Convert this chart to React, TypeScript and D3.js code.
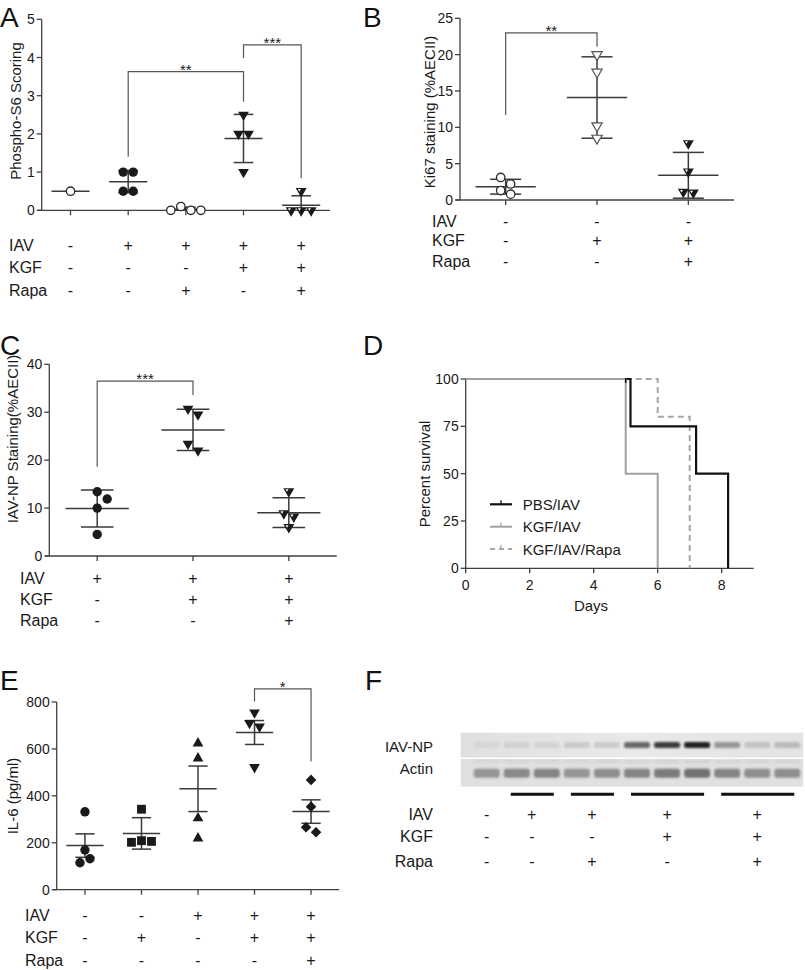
import React from "react";
import * as d3 from "d3";

const FONT = "'Liberation Sans', Arial, Helvetica, sans-serif";
const INK = "#1a1a1a";
const AXIS = "#404040";
const LINE = "#3a3a3a";

const ROW_LABELS = ["IAV", "KGF", "Rapa"];

// ---- Panel A ----
const A_VALUES = [[0.5], [1, 1, 0.5, 0.5], [0, 0, 0.1, 0], [2.5, 2, 2, 1], [0.5, 0, 0, 0]];
const A_MEAN = [0.5, 0.75, 0.03, 1.88, 0.13];
const A_ERR = [0, 0.29, 0.05, 0.63, 0.25];
const A_MARKERS = ["circleOpen", "circle", "circleOpen", "triDown", "triDownHalf"];
const A_TICKS = [0, 1, 2, 3, 4, 5];
const A_IAV = ["-", "+", "+", "+", "+"];
const A_KGF = ["-", "-", "-", "+", "+"];
const A_RAPA = ["-", "-", "+", "-", "+"];
const A_SIG = [
  { from: 1, to: 3, top: 3.63, left: 1.4, right: 2.84, label: "**" },
  { from: 3, to: 4, top: 4.33, left: 3.98, right: 0.84, label: "***" },
];

// ---- Panel B ----
const B_VALUES = [[3.1, 2.2, 0.8, 1.3], [20, 17.6, 10.2, 8.5], [7.8, 3.9, 1.1, 1.0]];
const B_MEAN = [1.83, 14.1, 3.4];
const B_ERR = [1.02, 5.6, 3.15];
const B_MARKERS = ["circleOpen", "triDownOpen", "triDownHalf"];
const B_TICKS = [0, 5, 10, 15, 20, 25];
const B_IAV = ["-", "-", "-"];
const B_KGF = ["-", "+", "+"];
const B_RAPA = ["-", "-", "+"];
const B_SIG = [{ from: 0, to: 1, top: 23, left: 11.7, right: 21.1, label: "**" }];

// ---- Panel C ----
const C_VALUES = [[13.4, 11.9, 10, 4.5], [30.7, 29.5, 23.4, 22.0], [13.5, 8.9, 8.2, 6.0]];
const C_MEAN = [9.9, 26.3, 9.05];
const C_ERR = [3.85, 4.3, 3.1];
const C_MARKERS = ["circle", "triDown", "triDownHalf"];
const C_TICKS = [0, 10, 20, 30, 40];
const C_IAV = ["+", "+", "+"];
const C_KGF = ["-", "+", "+"];
const C_RAPA = ["-", "-", "+"];
const C_SIG = [{ from: 0, to: 1, top: 36.5, left: 18.6, right: 33.6, label: "***" }];

// ---- Panel D ----
const D_DAY_TICKS = [0, 2, 4, 6, 8];
const D_PCT_TICKS = [0, 25, 50, 75, 100];
const D_PBS: [number, number][] = [[0, 100], [5.15, 75], [7.2, 50], [8.2, 0]];
const D_KGF: [number, number][] = [[0, 100], [5, 50], [6, 0]];
const D_RAPA: [number, number][] = [[0, 100], [6, 80], [7, 0]];
const D_NAMES = ["PBS/IAV", "KGF/IAV", "KGF/IAV/Rapa"];

// ---- Panel E ----
const E_VALUES = [[332, 169, 132, 115], [343, 209, 202, 206], [624, 560, 305, 219], [755, 710, 695, 522], [468, 354, 266, 245]];
const E_MEAN = [188, 240, 430, 670, 333];
const E_ERR = [50, 67, 97, 51, 50];
const E_MARKERS = ["circle", "square", "triUp", "triDown", "diamond"];
const E_TICKS = [0, 200, 400, 600, 800];
const E_IAV = ["-", "-", "+", "+", "+"];
const E_KGF = ["-", "+", "-", "+", "+"];
const E_RAPA = ["-", "-", "-", "-", "+"];
const E_SIG = [{ from: 3, to: 4, top: 856, left: 802, right: 546, label: "*" }];

// ---- Panel F (blot) ----
const F_NP = [0.05, 0.08, 0.08, 0.12, 0.12, 0.6, 0.8, 0.95, 0.38, 0.15, 0.18];
const F_ACTIN = [0.42, 0.48, 0.5, 0.42, 0.44, 0.5, 0.55, 0.6, 0.5, 0.44, 0.44];
const F_LANE_GROUPS = [[0], [1, 2], [3, 4], [5, 6, 7], [8, 9, 10]];
const F_IAV = ["-", "+", "+", "+", "+"];
const F_KGF = ["-", "-", "-", "+", "+"];
const F_RAPA = ["-", "-", "+", "-", "+"];

const sym = (type: any, size: number) => d3.symbol().type(type).size(size)() as string;

function Marker({ kind, x, y }: { kind: string; x: number; y: number }) {
  const tf = `translate(${x},${y})`;
  switch (kind) {
    case "circle":
      return <circle cx={x} cy={y} r={4.7} fill={INK} />;
    case "circleOpen":
      return <circle cx={x} cy={y} r={4.2} fill="#fff" stroke="#2a2a2a" strokeWidth={1.3} />;
    case "triDown":
      return <path d={sym(d3.symbolTriangle, 50)} transform={`${tf} rotate(180)`} fill={INK} />;
    case "triDownOpen":
      return <path d={sym(d3.symbolTriangle, 46)} transform={`${tf} rotate(180)`} fill="#fff" stroke="#555" strokeWidth={1.2} />;
    case "triDownHalf":
      return (
        <g transform={`${tf} rotate(180)`}>
          <path d={sym(d3.symbolTriangle, 52)} fill={INK} />
          <path d={sym(d3.symbolTriangle, 4)} transform="translate(1.8,1.2)" fill="#fff" />
        </g>
      );
    case "triUp":
      return <path d={sym(d3.symbolTriangle, 50)} transform={tf} fill={INK} />;
    case "square":
      return <path d={sym(d3.symbolSquare, 78)} transform={tf} fill={INK} />;
    case "diamond":
      return <path d={sym(d3.symbolSquare, 56)} transform={`${tf} rotate(45)`} fill={INK} />;
    default:
      return null;
  }
}

// simple beeswarm dodge for points of a group (pixel y values)
function dodge(ys: number[], d: number): number[] {
  const order = d3.range(ys.length).sort((a, b) => ys[a] - ys[b]);
  const xs = new Array(ys.length).fill(0);
  const placed: { x: number; y: number }[] = [];
  for (const i of order) {
    const y = ys[i];
    const cands = [0];
    for (let k = 1; k < 8; k++) cands.push(k * d, -k * d);
    for (const c of cands) {
      if (placed.every((p) => Math.hypot(p.x - c, p.y - y) >= d * 0.98)) {
        xs[i] = c;
        placed.push({ x: c, y });
        break;
      }
    }
  }
  const thr = d * 0.7;
  let cluster: number[] = [];
  const flush = () => {
    if (cluster.length > 1) {
      const m = d3.mean(cluster, (j) => xs[j]) as number;
      cluster.forEach((j) => (xs[j] -= m));
    }
    cluster = [];
  };
  order.forEach((i, k) => {
    if (k > 0 && ys[i] - ys[order[k - 1]] >= thr) flush();
    cluster.push(i);
  });
  flush();
  return xs;
}

function Table({ cols, rows, rowY, labelX, anchor }: { cols: number[]; rows: string[][]; rowY: number[]; labelX: number; anchor: string }) {
  return (
    <g fontFamily={FONT} fontSize={16} fill={INK}>
      {rows.map((r, ri) => (
        <g key={ri}>
          <text x={labelX} y={rowY[ri]} dominantBaseline="central" textAnchor={anchor}>
            {ROW_LABELS[ri]}
          </text>
          {r.map((s, ci) => (
            <text key={ci} x={cols[ci]} y={rowY[ri]} dominantBaseline="central" textAnchor="middle">
              {s}
            </text>
          ))}
        </g>
      ))}
    </g>
  );
}

function Letter({ t, x, y }: { t: string; x: number; y: number }) {
  return (
    <text x={x} y={y} fontFamily={FONT} fontSize={28} fill="#111">
      {t}
    </text>
  );
}

function YLabel({ t, x, y }: { t: string; x: number; y: number }) {
  return (
    <text
      transform={`translate(${x},${y}) rotate(-90)`}
      textAnchor="middle"
      dominantBaseline="central"
      fontFamily={FONT}
      fontSize={15}
      fill={INK}
    >
      {t}
    </text>
  );
}

function ScatterPanel(p: any) {
  const n = p.values.length;
  const xs = d3.scaleBand<number>().domain(d3.range(n)).range([p.x0, p.x1]);
  const cx = (i: number) => (xs(i) as number) + xs.bandwidth() / 2;
  const y = d3.scaleLinear().domain([0, p.yMax]).range([p.yBase, p.yTop]);
  const step = xs.step();
  const mw = step * 0.66;
  const cw = step * 0.34;
  const cols = d3.range(n).map(cx);
  return (
    <g>
      <Letter t={p.letter} x={p.letterPos[0]} y={p.letterPos[1]} />
      <YLabel t={p.yLabel} x={p.yLabelPos[0]} y={p.yLabelPos[1]} />
      <g stroke={AXIS} strokeWidth={1.3} fill="none">
        <line x1={p.x0} x2={p.x0} y1={y(0)} y2={y(p.yMax)} />
        <line x1={p.x0 - 4} x2={p.x1} y1={y(0)} y2={y(0)} />
        {p.ticks.map((t: number) => (
          <line key={t} x1={p.x0 - 5} x2={p.x0} y1={y(t)} y2={y(t)} />
        ))}
        {cols.map((c: number, i: number) => (
          <line key={i} x1={c} x2={c} y1={y(0)} y2={y(0) + 5} />
        ))}
      </g>
      <g fontFamily={FONT} fontSize={14} fill={INK} textAnchor="end">
        {p.ticks.map((t: number) => (
          <text key={t} x={p.x0 - 7} y={y(t)} dominantBaseline="central">
            {t}
          </text>
        ))}
      </g>
      <g stroke={LINE} strokeWidth={1.5} fill="none">
        {p.means.map((m: number, i: number) => {
          const c = cx(i);
          const e = p.errs[i];
          const lo = Math.max(0, m - e);
          const hi = m + e;
          return (
            <g key={i}>
              <line x1={c - mw / 2} x2={c + mw / 2} y1={y(m)} y2={y(m)} />
              {e > 0 && (
                <g>
                  <line x1={c} x2={c} y1={y(lo)} y2={y(hi)} />
                  <line x1={c - cw / 2} x2={c + cw / 2} y1={y(hi)} y2={y(hi)} />
                  {m - e >= 0 && <line x1={c - cw / 2} x2={c + cw / 2} y1={y(lo)} y2={y(lo)} />}
                </g>
              )}
            </g>
          );
        })}
      </g>
      {p.values.map((vals: number[], i: number) => {
        const py = vals.map((v) => y(v));
        const off = dodge(py, 10);
        return (
          <g key={i}>
            {vals.map((v, j) => (
              <Marker key={j} kind={p.markers[i]} x={cx(i) + off[j]} y={py[j]} />
            ))}
          </g>
        );
      })}
      {p.sig.map((s: any, k: number) => {
        const a = cx(s.from);
        const b = cx(s.to);
        return (
          <g key={k}>
            <path
              d={`M${a},${y(s.left)}V${y(s.top)}H${b}V${y(s.right)}`}
              stroke="#555"
              strokeWidth={1.2}
              fill="none"
            />
            <text x={(a + b) / 2} y={y(s.top) + 3} textAnchor="middle" fontFamily={FONT} fontSize={15} fill={INK}>
              {s.label}
            </text>
          </g>
        );
      })}
      <Table cols={cols} rows={p.rows} rowY={p.rowY} labelX={p.rowLabelX} anchor="start" />
    </g>
  );
}

function SurvivalPanel() {
  const x = d3.scaleLinear().domain([0, 9]).range([465.7, 753.7]);
  const y = d3.scaleLinear().domain([0, 100]).range([568.3, 379]);
  const line = d3
    .line<[number, number]>()
    .x((d) => x(d[0]))
    .y((d) => y(d[1]))
    .curve(d3.curveStepAfter);
  const series = [
    { data: D_RAPA, color: "#a6a6a6", width: 2, dash: "6,4", name: D_NAMES[2] },
    { data: D_PBS, color: "#111", width: 2.2, dash: undefined, name: D_NAMES[0] },
    { data: D_KGF, color: "#a0a0a0", width: 2, dash: undefined, name: D_NAMES[1] },
  ];
  const legendOrder = [1, 2, 0];
  const legendY = [504.3, 526.7, 549];
  return (
    <g>
      <Letter t="D" x={363} y={355} />
      <YLabel t="Percent survival" x={424.5} y={474} />
      <g stroke={AXIS} strokeWidth={1.3} fill="none">
        <line x1={x(0)} x2={x(0)} y1={y(0)} y2={y(100)} />
        <line x1={x(0)} x2={x(9)} y1={y(0)} y2={y(0)} />
        {D_PCT_TICKS.map((t) => (
          <line key={t} x1={x(0) - 5} x2={x(0)} y1={y(t)} y2={y(t)} />
        ))}
        {D_DAY_TICKS.map((t) => (
          <line key={t} x1={x(t)} x2={x(t)} y1={y(0)} y2={y(0) + 5} />
        ))}
      </g>
      <g fontFamily={FONT} fontSize={14} fill={INK}>
        {D_PCT_TICKS.map((t) => (
          <text key={t} x={x(0) - 7} y={y(t)} textAnchor="end" dominantBaseline="central">
            {t}
          </text>
        ))}
        {D_DAY_TICKS.map((t) => (
          <text key={t} x={x(t)} y={y(0) + 17} textAnchor="middle" dominantBaseline="central">
            {t}
          </text>
        ))}
      </g>
      <text x={591} y={605} textAnchor="middle" dominantBaseline="central" fontFamily={FONT} fontSize={15} fill={INK}>
        Days
      </text>
      {series.map((s, i) => (
        <path key={i} d={line(s.data) as string} stroke={s.color} strokeWidth={s.width} strokeDasharray={s.dash} fill="none" />
      ))}
      <line x1={x(5)} x2={x(5)} y1={y(100) - 1} y2={y(100) + 4} stroke="#111" strokeWidth={1.5} />
      {legendOrder.map((si, k) => {
        const s = series[si];
        const ly = legendY[k];
        return (
          <g key={k}>
            <line x1={490} x2={512} y1={ly} y2={ly} stroke={s.color} strokeWidth={s.width} strokeDasharray={s.dash ? "5,4" : undefined} />
            <line x1={501} x2={501} y1={ly - 4} y2={ly} stroke={s.color} strokeWidth={1.3} />
            <text x={522.7} y={ly} dominantBaseline="central" fontFamily={FONT} fontSize={15} fill={INK}>
              {s.name}
            </text>
          </g>
        );
      })}
    </g>
  );
}

function BlotPanel() {
  const lane = d3.scalePoint<number>().domain(d3.range(F_NP.length)).range([486.7, 787.3]);
  const bx0 = 460.7;
  const bx1 = 803.3;
  const npY = d3.scaleLinear().domain([0, 1]).range([732.7, 757.5]);
  const acY = d3.scaleLinear().domain([0, 1]).range([759, 786.7]);
  const bw = 26;
  const cols = F_LANE_GROUPS.map((g) => d3.mean(g, (i) => lane(i) as number) as number);
  return (
    <g>
      <Letter t="F" x={365} y={690} />
      <defs>
        <filter id="blur" x="-20%" y="-50%" width="140%" height="200%">
          <feGaussianBlur stdDeviation="1" />
        </filter>
        <linearGradient id="npbg" x1="0" x2="1" y1="0" y2="0">
          <stop offset="0" stopColor="#e0e0e0" />
          <stop offset="0.5" stopColor="#e9e9e9" />
          <stop offset="1" stopColor="#e3e3e3" />
        </linearGradient>
      </defs>
      <rect x={bx0} y={npY(0)} width={bx1 - bx0} height={npY(1) - npY(0)} fill="url(#npbg)" />
      <rect x={bx0} y={acY(0)} width={bx1 - bx0} height={acY(1) - acY(0)} fill="#e0e0e0" />
      <g filter="url(#blur)">
        {F_NP.map((v, i) => (
          <rect key={i} x={(lane(i) as number) - bw / 2} y={npY(0.5) - 3} width={bw} height={6} rx={2.5} fill="#141414" opacity={v} />
        ))}
        {F_ACTIN.map((v, i) => (
          <rect key={i} x={(lane(i) as number) - bw / 2} y={acY(0.35)} width={bw} height={9} rx={3} fill="#2a2a2a" opacity={v} />
        ))}
        {F_ACTIN.map((v, i) => (
          <rect key={"f" + i} x={(lane(i) as number) - bw / 2} y={acY(0.05)} width={bw} height={2} fill="#555" opacity={v * 0.25} />
        ))}
      </g>
      <g fontFamily={FONT} fontSize={15} fill={INK} textAnchor="end">
        <text x={433} y={npY(0.55)} dominantBaseline="central">IAV-NP</text>
        <text x={433} y={acY(0.35)} dominantBaseline="central">Actin</text>
      </g>
      {F_LANE_GROUPS.filter((g) => g.length > 1).map((g, k) => (
        <line
          key={k}
          x1={(lane(g[0]) as number) - 6}
          x2={(lane(g[g.length - 1]) as number) + 7}
          y1={794.3}
          y2={794.3}
          stroke="#111"
          strokeWidth={3}
        />
      ))}
      <Table cols={cols} rows={[F_IAV, F_KGF, F_RAPA]} rowY={[814, 836.7, 861.7]} labelX={433} anchor="end" />
    </g>
  );
}

export default function App() {
  return (
    <svg
      width={805}
      height={970}
      style={{ position: "absolute", left: 0, top: 0, background: "#fff" }}
      xmlns="http://www.w3.org/2000/svg"
    >
      <rect width={805} height={970} fill="#fff" />
      <ScatterPanel
        letter="A"
        letterPos={[0, 27]}
        x0={41.7}
        x1={330}
        yBase={210.3}
        yTop={19.3}
        yMax={5}
        ticks={A_TICKS}
        values={A_VALUES}
        means={A_MEAN}
        errs={A_ERR}
        markers={A_MARKERS}
        sig={A_SIG}
        rows={[A_IAV, A_KGF, A_RAPA]}
        rowY={[245, 267.3, 290]}
        rowLabelX={9}
        yLabel="Phospho-S6 Scoring"
        yLabelPos={[15, 111]}
      />
      <ScatterPanel
        letter="B"
        letterPos={[363, 27]}
        x0={460}
        x1={734}
        yBase={200}
        yTop={18.3}
        yMax={25}
        ticks={B_TICKS}
        values={B_VALUES}
        means={B_MEAN}
        errs={B_ERR}
        markers={B_MARKERS}
        sig={B_SIG}
        rows={[B_IAV, B_KGF, B_RAPA]}
        rowY={[221.7, 240.7, 261]}
        rowLabelX={432}
        yLabel="Ki67 staining  (%AECII)"
        yLabelPos={[429, 112]}
      />
      <ScatterPanel
        letter="C"
        letterPos={[0, 355]}
        x0={49.3}
        x1={336.7}
        yBase={556}
        yTop={364.3}
        yMax={40}
        ticks={C_TICKS}
        values={C_VALUES}
        means={C_MEAN}
        errs={C_ERR}
        markers={C_MARKERS}
        sig={C_SIG}
        rows={[C_IAV, C_KGF, C_RAPA]}
        rowY={[578.3, 599, 620.7]}
        rowLabelX={20}
        yLabel="IAV-NP Staining(%AECII)"
        yLabelPos={[12, 439]}
      />
      <SurvivalPanel />
      <ScatterPanel
        letter="E"
        letterPos={[0, 690]}
        x0={56.7}
        x1={339.3}
        yBase={889.7}
        yTop={702}
        yMax={800}
        ticks={E_TICKS}
        values={E_VALUES}
        means={E_MEAN}
        errs={E_ERR}
        markers={E_MARKERS}
        sig={E_SIG}
        rows={[E_IAV, E_KGF, E_RAPA]}
        rowY={[915.7, 937.3, 960]}
        rowLabelX={25}
        yLabel="IL-6 (pg/ml)"
        yLabelPos={[12, 796]}
      />
      <BlotPanel />
    </svg>
  );
}
